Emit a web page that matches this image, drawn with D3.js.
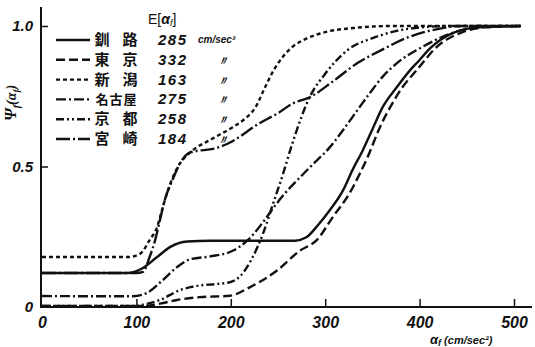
<!DOCTYPE html>
<html>
<head>
<meta charset="utf-8">
<script src="https://cdn.jsdelivr.net/npm/d3@7"></script>
<style>
  body { margin: 0; background: #fff; }
  svg { display: block; }
  .tick text { font-family: "Liberation Sans", Arial, sans-serif; font-style: italic; font-weight: bold; fill: #111; }
</style>
</head>
<body>
<div id="chart"></div>
<script>
// axis ticks
var alphaTicks = [0, 100, 200, 300, 400, 500];
var psiTicks = [0, 0.5, 1.0];

// legend
var stations = ["釧路", "東京", "新潟", "名古屋", "京都", "宮崎"];
var means = [285, 332, 163, 275, 258, 184];
var dashes = ["none", "9,4", "4,3", "10,3,2,3", "8,3,2,3,2,3", "14,3,2,3"];

// cumulative curves [alpha, psi]
var kushiro = [[0,0.121],[90,0.121],[107,0.139],[122,0.178],[136,0.214],[154,0.233],[178,0.236],[268,0.236],[280,0.248],[292,0.29],[305,0.345],[319,0.416],[329,0.488],[340,0.559],[351,0.64],[361,0.712],[376,0.783],[390,0.843],[400,0.879],[411,0.92],[435,0.975],[464,0.996],[507,1.0]];
var tokyo = [[0,0.004],[110,0.004],[125,0.012],[143,0.025],[167,0.035],[199,0.04],[220,0.07],[249,0.13],[273,0.2],[291,0.238],[308,0.32],[326,0.406],[337,0.477],[345,0.534],[358,0.64],[369,0.712],[382,0.783],[397,0.843],[418,0.925],[443,0.975],[469,0.995],[507,1.0]];
var niigata = [[0,0.178],[92,0.178],[104,0.19],[114,0.238],[122,0.285],[128,0.356],[136,0.44],[146,0.51],[157,0.55],[181,0.6],[202,0.64],[215,0.67],[226,0.71],[236,0.78],[245,0.84],[255,0.89],[265,0.925],[280,0.955],[300,0.978],[330,0.993],[370,1.0],[507,1.0]];
var nagoya = [[0,0.039],[96,0.038],[111,0.05],[128,0.096],[143,0.142],[157,0.17],[178,0.18],[202,0.2],[218,0.238],[242,0.338],[249,0.37],[284,0.498],[305,0.569],[319,0.63],[334,0.7],[347,0.76],[361,0.82],[376,0.868],[400,0.92],[429,0.968],[464,0.996],[507,1.0]];
var kyoto = [[0,0.004],[100,0.004],[107,0.008],[125,0.025],[146,0.06],[164,0.075],[185,0.082],[199,0.088],[210,0.11],[222,0.17],[234,0.26],[245,0.37],[255,0.47],[265,0.58],[284,0.75],[300,0.83],[324,0.915],[353,0.96],[388,0.99],[432,1.0],[507,1.0]];
var miyazaki = [[0,0.121],[100,0.121],[107,0.125],[114,0.178],[120,0.24],[125,0.31],[130,0.38],[138,0.45],[146,0.51],[157,0.55],[185,0.566],[196,0.58],[231,0.655],[250,0.69],[266,0.725],[284,0.747],[307,0.8],[335,0.87],[360,0.915],[388,0.96],[413,0.985],[445,1.0],[507,1.0]];

var curves = [kushiro, tokyo, niigata, nagoya, kyoto, miyazaki];

var width = 535, height = 347;

var svg = d3.select("#chart").append("svg")
  .attr("width", width)
  .attr("height", height);

var x = d3.scaleLinear().domain([0, 500]).range([42, 514]);
var y = d3.scaleLinear().domain([0, 1]).range([307, 26]);

// axis lines
svg.append("line")
  .attr("x1", 41).attr("x2", 41).attr("y1", 7).attr("y2", y(0) + 1)
  .attr("stroke", "#111").attr("stroke-width", 2);
svg.append("line")
  .attr("x1", 41).attr("x2", 532).attr("y1", y(0)).attr("y2", y(0))
  .attr("stroke", "#111").attr("stroke-width", 2);

var xAxis = svg.append("g")
  .attr("transform", "translate(0," + y(0) + ")")
  .call(d3.axisBottom(x).tickValues(alphaTicks).tickSizeInner(-8).tickSizeOuter(0).tickPadding(10)
    .tickFormat(d3.format("d")));
xAxis.select(".domain").remove();
xAxis.selectAll(".tick line").attr("stroke", "#111").attr("stroke-width", 1.5)
  .attr("display", function (d) { return d === 0 ? "none" : null; });
xAxis.selectAll(".tick text").attr("font-size", 16);

var yAxis = svg.append("g")
  .attr("transform", "translate(41,0)")
  .call(d3.axisLeft(y).tickValues(psiTicks).tickSizeInner(-7).tickSizeOuter(0).tickPadding(8)
    .tickFormat(function (d) { return d === 0 ? "0" : d3.format(".1f")(d); }));
yAxis.select(".domain").remove();
yAxis.selectAll(".tick line").attr("stroke", "#111").attr("stroke-width", 1.5)
  .attr("display", function (d) { return d === 0 ? "none" : null; });
yAxis.selectAll(".tick text").attr("font-size", 15);

// curves
var line = d3.line()
  .x(function (d) { return x(d[0]); })
  .y(function (d) { return y(d[1]); })
  .curve(d3.curveMonotoneX);

svg.selectAll("path.curve")
  .data(curves)
  .enter().append("path")
  .attr("class", "curve")
  .attr("d", line)
  .attr("fill", "none")
  .attr("stroke", "#111")
  .attr("stroke-width", 2.4)
  .attr("stroke-dasharray", function (d, i) { return dashes[i]; });

// legend
var legend = svg.append("g");
var head = legend.append("text")
  .attr("x", 148).attr("y", 24)
  .attr("font-family", "Liberation Sans, sans-serif")
  .attr("font-size", 14).attr("fill", "#111");
head.append("tspan").text("E[");
head.append("tspan").attr("font-style", "italic").attr("font-weight", "bold").text("α");
head.append("tspan").attr("font-size", 9).attr("dy", 2).attr("font-style", "italic").text("f");
head.append("tspan").attr("dy", -2).text("]");

var rows = legend.selectAll("g.row")
  .data(stations)
  .enter().append("g")
  .attr("class", "row")
  .attr("transform", function (d, i) { return "translate(0," + (40 + i * 19.8) + ")"; });

rows.append("line")
  .attr("x1", 56).attr("x2", 90)
  .attr("stroke", "#111").attr("stroke-width", 2.4)
  .attr("stroke-dasharray", function (d, i) { return dashes[i]; });

rows.each(function (name) {
  var chars = name.split("");
  var g = d3.select(this);
  chars.forEach(function (c, j) {
    var cx = chars.length === 1 ? 118 : 102 + j * (28 / (chars.length - 1));
    g.append("text")
      .attr("x", cx).attr("y", 5)
      .attr("text-anchor", "middle")
      .attr("font-family", "Noto Sans CJK JP")
      .attr("font-weight", "bold")
      .attr("font-size", chars.length > 2 ? 13 : 15)
      .attr("fill", "#111")
      .text(c);
  });
});

rows.append("text")
  .attr("x", 158).attr("y", 5)
  .attr("font-family", "Liberation Sans, sans-serif")
  .attr("font-style", "italic").attr("font-weight", "bold")
  .attr("font-size", 15).attr("letter-spacing", 1.5)
  .attr("fill", "#111")
  .text(function (d, i) { return means[i]; });

rows.append("text")
  .attr("x", function (d, i) { return i === 0 ? 198 : 217; })
  .attr("y", function (d, i) { return i === 0 ? 3 : 5; })
  .attr("font-family", "Liberation Sans, sans-serif")
  .attr("font-style", "italic").attr("font-weight", "bold")
  .attr("font-size", function (d, i) { return i === 0 ? 10 : 12; })
  .attr("fill", "#111")
  .text(function (d, i) { return i === 0 ? "cm/sec²" : "〃"; });

// y axis title
var yt = svg.append("text")
  .attr("transform", "translate(16,103) rotate(-90)")
  .attr("text-anchor", "middle")
  .attr("font-family", "Liberation Serif, serif")
  .attr("font-style", "italic").attr("font-weight", "bold")
  .attr("font-size", 16).attr("fill", "#111");
yt.append("tspan").text("Ψ");
yt.append("tspan").attr("font-size", 10).attr("dy", 4).text("f");
yt.append("tspan").attr("dy", -4).attr("font-size", 14).text("(α");
yt.append("tspan").attr("font-size", 9).attr("dy", 3).text("f");
yt.append("tspan").attr("dy", -3).attr("font-size", 14).text(")");

// x axis title
var xt = svg.append("text")
  .attr("x", 430).attr("y", 344)
  .attr("font-family", "Liberation Sans, sans-serif")
  .attr("font-style", "italic").attr("font-weight", "bold")
  .attr("font-size", 13).attr("fill", "#111");
xt.append("tspan").text("α");
xt.append("tspan").attr("font-size", 9).attr("dy", 2).text("f");
xt.append("tspan").attr("dy", -2).attr("font-size", 11).text(" (cm/sec²)");
</script>
</body>
</html>
